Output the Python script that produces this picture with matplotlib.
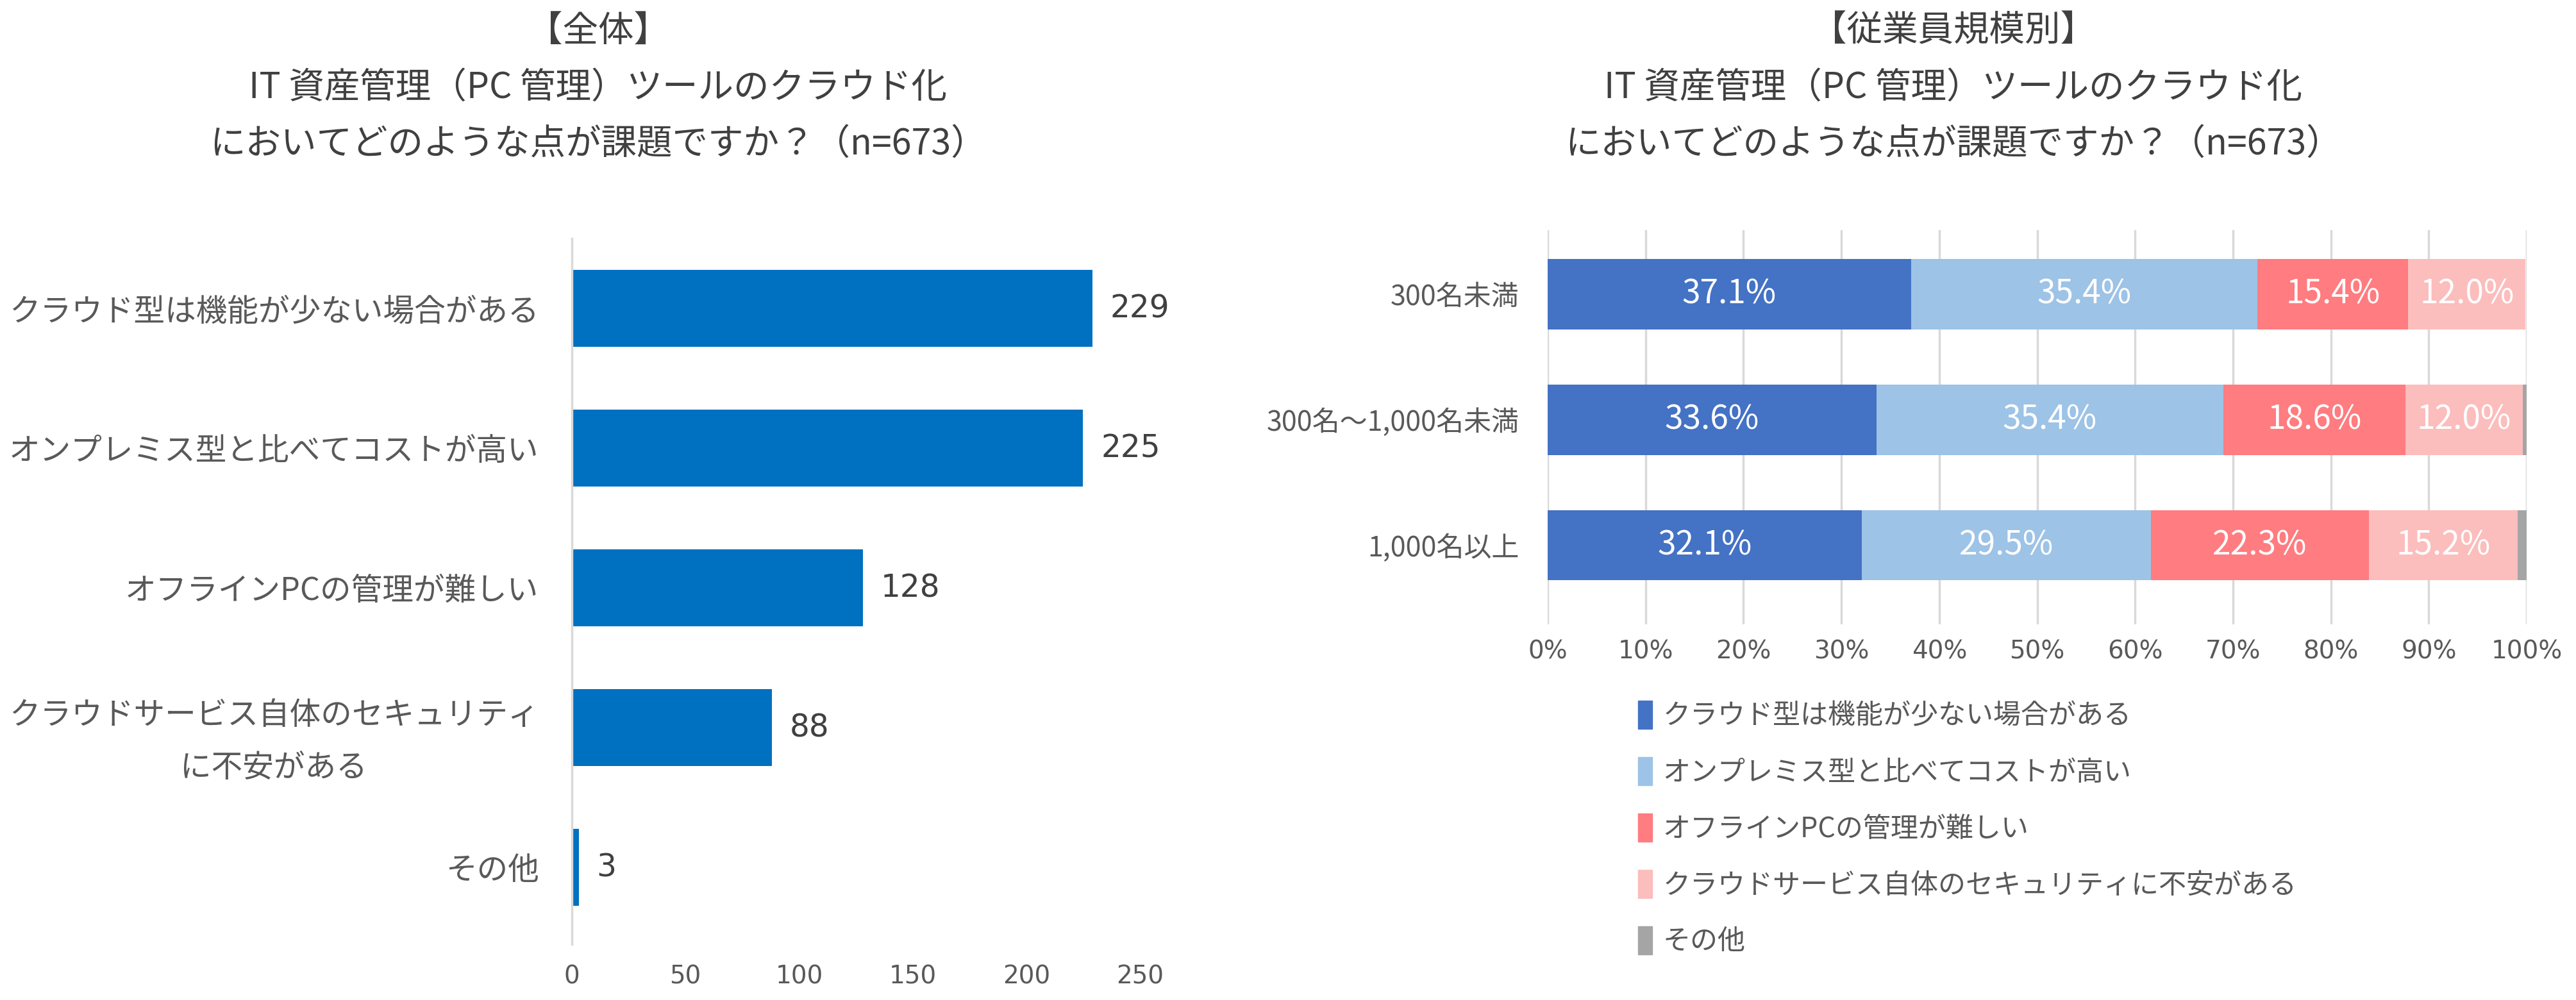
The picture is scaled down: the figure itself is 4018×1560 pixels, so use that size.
import matplotlib
matplotlib.use('Agg')
import matplotlib.pyplot as plt
from matplotlib.patches import Patch
import numpy as np

plt.rcParams['font.family'] = ['Noto Sans CJK JP', 'DejaVu Sans']

# left chart: overall counts
LEFT_LABELS = ['クラウド型は機能が少ない場合がある',
               'オンプレミス型と比べてコストが高い',
               'オフラインPCの管理が難しい',
               'クラウドサービス自体のセキュリティ\nに不安がある',
               'その他']
LEFT_VALUES = [229, 225, 128, 88, 3]
LEFT_TICKS = [0, 50, 100, 150, 200, 250]

# right chart: share by company size (%)
GROUPS = ['300名未満', '300名～1,000名未満', '1,000名以上']
SERIES = ['クラウド型は機能が少ない場合がある',
          'オンプレミス型と比べてコストが高い',
          'オフラインPCの管理が難しい',
          'クラウドサービス自体のセキュリティに不安がある',
          'その他']
FEW_FUNCTIONS = [37.1, 33.6, 32.1]
HIGH_COST = [35.4, 35.4, 29.5]
OFFLINE_PC = [15.4, 18.6, 22.3]
SECURITY = [12.0, 12.0, 15.2]
OTHER = [0.0, 0.4, 0.9]
PCT_TICKS = [0, 10, 20, 30, 40, 50, 60, 70, 80, 90, 100]

TITLE_LEFT = ['【全体】',
              'IT 資産管理（PC 管理）ツールのクラウド化',
              'においてどのような点が課題ですか？（n=673）']
TITLE_RIGHT = ['【従業員規模別】',
               'IT 資産管理（PC 管理）ツールのクラウド化',
               'においてどのような点が課題ですか？（n=673）']

BAR_COLOR = '#0070C0'
SERIES_COLORS = ['#4472C4', '#9DC3E6', '#FF7C80', '#FCBDBD', '#A5A5A5']
TEXT = '#595959'
GRID = '#D9D9D9'

W, H = 4018, 1560
fig = plt.figure(figsize=(W / 100, H / 100), dpi=100)

# titles, one line each
for i, line in enumerate(TITLE_LEFT):
    fig.text(933 / W, 1 - (49 + 88 * i) / H, line, ha='center', va='center',
             fontsize=40, color='#404040')
for i, line in enumerate(TITLE_RIGHT):
    fig.text(3047 / W, 1 - (49 + 88 * i) / H, line, ha='center', va='center',
             fontsize=40, color='#404040')

# ---- left: horizontal bar chart
ax1 = fig.add_axes([892 / W, 87 / H, 886 / W, 1101 / H])
y = np.arange(len(LEFT_VALUES))
ax1.barh(y, LEFT_VALUES, height=0.55, color=BAR_COLOR)
for yi, v in zip(y, LEFT_VALUES):
    ax1.annotate(str(v), (v, yi), xytext=(20, 0), textcoords='offset points',
                 ha='left', va='center', fontsize=35, color='#404040',
                 family='DejaVu Sans')
ax1.set_xlim(0, 250)
ax1.set_ylim(4.55, -0.5)
ax1.set_xticks(LEFT_TICKS)
ax1.set_xticklabels([str(t) for t in LEFT_TICKS], family='DejaVu Sans')
ax1.set_yticks(y)
ax1.set_yticklabels(LEFT_LABELS, multialignment='center', linespacing=1.85)
ax1.tick_params(axis='x', length=0, pad=23, labelsize=28, labelcolor=TEXT)
ax1.tick_params(axis='y', length=0, pad=37, labelsize=35, labelcolor=TEXT)
for s in ['top', 'right', 'bottom']:
    ax1.spines[s].set_visible(False)
ax1.spines['left'].set_color(GRID)
ax1.spines['left'].set_linewidth(2.5)

# ---- right: 100% stacked bar chart
ax2 = fig.add_axes([2414 / W, 586 / H, 1527 / W, 615 / H])
yg = np.arange(len(GROUPS))
data = [FEW_FUNCTIONS, HIGH_COST, OFFLINE_PC, SECURITY, OTHER]
left = np.zeros(len(GROUPS))
for k, (vals, col) in enumerate(zip(data, SERIES_COLORS)):
    vals = np.array(vals)
    ax2.barh(yg, vals, left=left, height=0.56, color=col, zorder=2)
    if k < 4:
        for yi, l, v in zip(yg, left, vals):
            ax2.text(l + v / 2, yi, f'{v:.1f}%', ha='center', va='center',
                     fontsize=37, color='white', zorder=3)
    left += vals
ax2.set_xlim(0, 100)
ax2.set_ylim(2.63, -0.51)
ax2.set_xticks(PCT_TICKS)
ax2.set_xticklabels([f'{t}%' for t in PCT_TICKS], family='DejaVu Sans')
ax2.set_yticks(yg)
ax2.set_yticklabels(GROUPS)
ax2.grid(axis='x', color=GRID, linewidth=2.5, zorder=0)
ax2.set_axisbelow(True)
ax2.tick_params(axis='x', length=0, pad=17, labelsize=28, labelcolor=TEXT)
ax2.tick_params(axis='y', length=0, pad=32, labelsize=31, labelcolor=TEXT)
for s in ax2.spines.values():
    s.set_visible(False)

handles = [Patch(color=c) for c in SERIES_COLORS]
fig.legend(handles, SERIES, loc='upper left', bbox_to_anchor=(2555 / W, 1 - 1093 / H),
           frameon=False, fontsize=31, labelcolor=TEXT, handlelength=0.5,
           handleheight=1.2, handletextpad=0.4, labelspacing=0.96,
           borderpad=0, borderaxespad=0)

fig.savefig('out.png', dpi=100, facecolor='white')
